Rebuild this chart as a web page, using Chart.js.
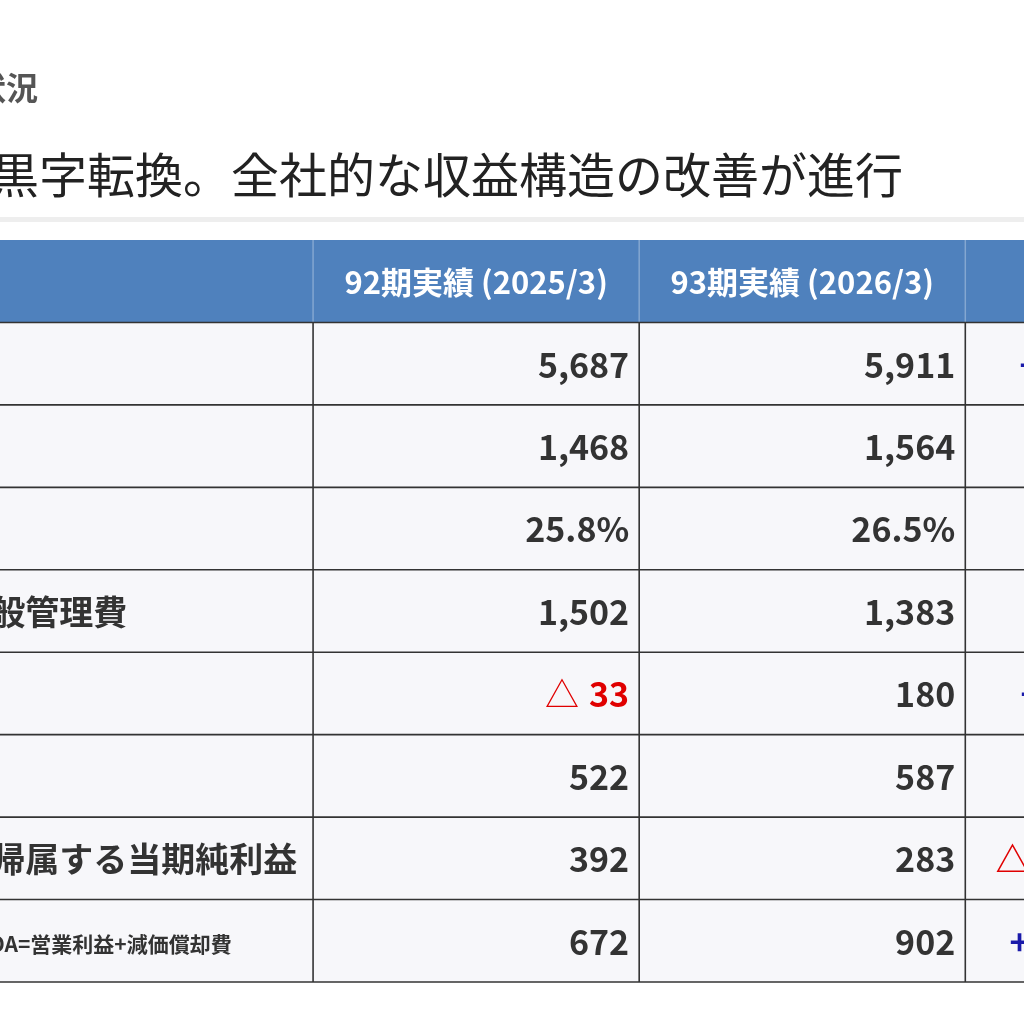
<!DOCTYPE html>
<html><head><meta charset="utf-8">
<script src="https://cdn.jsdelivr.net/npm/chart.js@4"></script>
<style>html,body{margin:0;padding:0;background:#fff;}#w{width:1024px;height:1024px;position:relative;}</style>
</head><body><div id="w"><canvas id="c"></canvas></div>
<script>
const sectionTitle = "1. 業績の状況";
const headline = "営業利益が黒字転換。全社的な収益構造の改善が進行";
const headers = ["", "92期実績 (2025/3)", "93期実績 (2026/3)", "前期比増減"];
const rowLabels = ["売上高","売上総利益","売上総利益率","販売費及び一般管理費","営業利益","経常利益","親会社株主に帰属する当期純利益","EBITDA"];
const rowNotes = ["","","","","","","","※EBITDA=営業利益+減価償却費"];
const fy92 = ["5,687","1,468","25.8%","1,502","△ 33","522","392","672"];
const fy93 = ["5,911","1,564","26.5%","1,383","180","587","283","902"];
const diffs = ["+224 (+3.9%)","+96","+0.7pt","△119","+213 (黒字化)","+65","△109 (△27.8%)","+230 (+34.2%)"];
const JP = '"Noto Sans CJK JP","Noto Sans",sans-serif';

function colorFor(s, base){ if(s.startsWith('△')) return '#e00000'; if(s.startsWith('+')) return base; return '#333'; }

const tablePlugin = {
  id:'tbl',
  beforeDraw(chart){
    const ctx=chart.ctx, xs=chart.scales.x, ys=chart.scales.y;
    const X=v=>xs.getPixelForValue(v), Y=v=>ys.getPixelForValue(v);
    ctx.save();
    ctx.fillStyle='#fff'; ctx.fillRect(0,0,chart.width,chart.height);
    ctx.textBaseline='middle'; ctx.textAlign='right';
    ctx.fillStyle='#555'; ctx.font='bold 32px '+JP; ctx.fillText(sectionTitle,38,88);
    ctx.fillStyle='#222'; ctx.font='48px '+JP; ctx.fillText(headline,903,175);
    ctx.fillStyle='#eeeeee'; ctx.fillRect(0,217,chart.width,5);
    const colEdges=[-1.6,0,1,2,3];
    ctx.fillStyle='#4f81bd'; ctx.fillRect(X(-1.6),Y(-1),X(3)-X(-1.6),Y(0)-Y(-1));
    ctx.fillStyle='#f7f7fa'; ctx.fillRect(X(-1.6),Y(0),X(3)-X(-1.6),Y(rowLabels.length)-Y(0));
    ctx.font='bold 31px '+JP; ctx.textAlign='center'; ctx.fillStyle='#fff';
    headers.forEach((h,i)=>ctx.fillText(h,(X(colEdges[i])+X(colEdges[i+1]))/2,(Y(-1)+Y(0))/2+1));
    ctx.strokeStyle='rgba(255,255,255,0.3)'; ctx.lineWidth=1.5;
    for(let i=1;i<4;i++){ctx.beginPath();ctx.moveTo(X(colEdges[i]),Y(-1));ctx.lineTo(X(colEdges[i]),Y(0));ctx.stroke();}
    ctx.strokeStyle='#333'; ctx.lineWidth=1.6;
    for(let r=0;r<=rowLabels.length;r++){ctx.beginPath();ctx.moveTo(X(-1.6),Y(r));ctx.lineTo(X(3),Y(r));ctx.stroke();}
    for(let i=1;i<4;i++){ctx.beginPath();ctx.moveTo(X(colEdges[i]),Y(0));ctx.lineTo(X(colEdges[i]),Y(rowLabels.length));ctx.stroke();}
    rowLabels.forEach((lab,r)=>{
      const cy=(Y(r)+Y(r+1))/2+1;
      ctx.textAlign='left'; ctx.fillStyle='#333'; ctx.font='bold 34px '+JP;
      let lx=X(-1.6)-4; ctx.fillText(lab,lx,cy);
      if(rowNotes[r]){ const w=ctx.measureText(lab).width; ctx.font='bold 21px '+JP; ctx.fillText(rowNotes[r],lx+w+12,cy+2); }
      ctx.font='bold 34px '+JP; ctx.textAlign='right';
      const v1=fy92[r];
      if(v1.startsWith('△')){
        ctx.fillStyle='#e00000'; const num=v1.replace('△','').trim();
        const w=ctx.measureText(num).width; ctx.fillText(num,X(1)-10,cy);
        ctx.font='34px '+JP; ctx.fillText('△',X(1)-20-w,cy); ctx.font='bold 34px '+JP;
      } else { ctx.fillStyle='#333'; ctx.fillText(v1,X(1)-10,cy); }
      ctx.fillStyle='#333'; ctx.fillText(fy93[r],X(2)-10,cy);
      ctx.textAlign='center'; ctx.fillStyle=colorFor(diffs[r],'#1a1aaa');
      ctx.fillText(diffs[r],(X(2)+X(3))/2,cy);
    });
    ctx.restore();
  }
};

const cellPoints=[];
rowLabels.forEach((l,r)=>{[0.5,1.5,2.5].forEach(x=>cellPoints.push({x:x,y:r+0.5}));});

new Chart(document.getElementById('c'),{
  type:'scatter',
  data:{datasets:[{data:cellPoints,pointRadius:0,pointHoverRadius:0}]},
  options:{responsive:true,maintainAspectRatio:false,animation:false,
    layout:{padding:{top:240,bottom:42,left:0,right:0}},
    plugins:{legend:{display:false},tooltip:{enabled:false}},
    events:[],
    scales:{
      x:{type:'linear',min:-0.96,max:2.18,display:false},
      y:{type:'linear',min:-1,max:8,reverse:true,display:false}
    }},
  plugins:[tablePlugin]
});
</script></body></html>
